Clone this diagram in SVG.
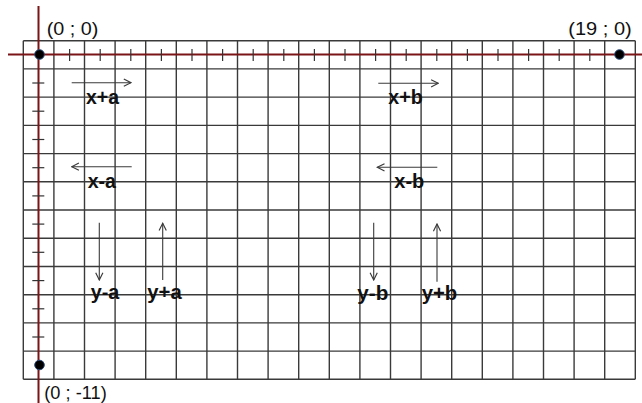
<svg xmlns="http://www.w3.org/2000/svg" width="642" height="403" viewBox="0 0 642 403">
<defs>
<style>
.grid line{stroke:#3a3a3a;stroke-width:1.4}
.axis{stroke:#7b1416;stroke-width:2}
.tick{stroke:#333;stroke-width:1.2}
.arr{stroke:#3a3a3a;stroke-width:1.1;fill:none;marker-end:url(#ah)}
.coord{font-family:"Liberation Sans",Arial,sans-serif;font-size:19px;fill:#111}
.lbl{font-family:"Liberation Sans",Arial,sans-serif;font-size:21px;font-weight:bold;fill:#111}
.dot{fill:#000;stroke:#2a4a7a;stroke-width:1}
</style>
<marker id="ah" viewBox="0 0 10 10" refX="9" refY="5" markerWidth="9" markerHeight="9" markerUnits="userSpaceOnUse" orient="auto">
<path d="M1,1 L9,5 L1,9" fill="none" stroke="#3a3a3a" stroke-width="1.3"/>
</marker>
</defs>
<rect width="642" height="403" fill="#fff"/>
<g id="grid" class="grid">
<line x1="23.3" y1="40.7" x2="23.3" y2="379.3"/>
<line x1="53.9" y1="40.7" x2="53.9" y2="379.3"/>
<line x1="84.5" y1="40.7" x2="84.5" y2="379.3"/>
<line x1="115.1" y1="40.7" x2="115.1" y2="379.3"/>
<line x1="145.7" y1="40.7" x2="145.7" y2="379.3"/>
<line x1="176.3" y1="40.7" x2="176.3" y2="379.3"/>
<line x1="206.9" y1="40.7" x2="206.9" y2="379.3"/>
<line x1="237.5" y1="40.7" x2="237.5" y2="379.3"/>
<line x1="268.1" y1="40.7" x2="268.1" y2="379.3"/>
<line x1="298.7" y1="40.7" x2="298.7" y2="379.3"/>
<line x1="329.3" y1="40.7" x2="329.3" y2="379.3"/>
<line x1="359.9" y1="40.7" x2="359.9" y2="379.3"/>
<line x1="390.5" y1="40.7" x2="390.5" y2="379.3"/>
<line x1="421.1" y1="40.7" x2="421.1" y2="379.3"/>
<line x1="451.7" y1="40.7" x2="451.7" y2="379.3"/>
<line x1="482.3" y1="40.7" x2="482.3" y2="379.3"/>
<line x1="512.9" y1="40.7" x2="512.9" y2="379.3"/>
<line x1="543.5" y1="40.7" x2="543.5" y2="379.3"/>
<line x1="574.1" y1="40.7" x2="574.1" y2="379.3"/>
<line x1="604.7" y1="40.7" x2="604.7" y2="379.3"/>
<line x1="635.3" y1="40.7" x2="635.3" y2="379.3"/>
<line x1="23.3" y1="40.7" x2="635.3" y2="40.7"/>
<line x1="23.3" y1="68.9" x2="635.3" y2="68.9"/>
<line x1="23.3" y1="97.1" x2="635.3" y2="97.1"/>
<line x1="23.3" y1="125.4" x2="635.3" y2="125.4"/>
<line x1="23.3" y1="153.6" x2="635.3" y2="153.6"/>
<line x1="23.3" y1="181.8" x2="635.3" y2="181.8"/>
<line x1="23.3" y1="210.0" x2="635.3" y2="210.0"/>
<line x1="23.3" y1="238.2" x2="635.3" y2="238.2"/>
<line x1="23.3" y1="266.5" x2="635.3" y2="266.5"/>
<line x1="23.3" y1="294.7" x2="635.3" y2="294.7"/>
<line x1="23.3" y1="322.9" x2="635.3" y2="322.9"/>
<line x1="23.3" y1="351.1" x2="635.3" y2="351.1"/>
<line x1="23.3" y1="379.3" x2="635.3" y2="379.3"/>
</g>
<g id="axes">
<line class="axis" x1="8" y1="54.5" x2="642" y2="54.5"/>
<line class="axis" x1="38.5" y1="6" x2="38.5" y2="403"/>
<g class="tick">
<line x1="69.6" y1="49" x2="69.6" y2="61"/>
<line x1="100.2" y1="49" x2="100.2" y2="61"/>
<line x1="130.8" y1="49" x2="130.8" y2="61"/>
<line x1="161.4" y1="49" x2="161.4" y2="61"/>
<line x1="192" y1="49" x2="192" y2="61"/>
<line x1="222.6" y1="49" x2="222.6" y2="61"/>
<line x1="253.2" y1="49" x2="253.2" y2="61"/>
<line x1="283.8" y1="49" x2="283.8" y2="61"/>
<line x1="314.4" y1="49" x2="314.4" y2="61"/>
<line x1="345" y1="49" x2="345" y2="61"/>
<line x1="375.6" y1="49" x2="375.6" y2="61"/>
<line x1="406.2" y1="49" x2="406.2" y2="61"/>
<line x1="436.8" y1="49" x2="436.8" y2="61"/>
<line x1="467.4" y1="49" x2="467.4" y2="61"/>
<line x1="498" y1="49" x2="498" y2="61"/>
<line x1="528.6" y1="49" x2="528.6" y2="61"/>
<line x1="559.2" y1="49" x2="559.2" y2="61"/>
<line x1="589.8" y1="49" x2="589.8" y2="61"/>
<line x1="32.3" y1="83" x2="44.3" y2="83"/>
<line x1="32.3" y1="111.2" x2="44.3" y2="111.2"/>
<line x1="32.3" y1="139.5" x2="44.3" y2="139.5"/>
<line x1="32.3" y1="167.7" x2="44.3" y2="167.7"/>
<line x1="32.3" y1="195.9" x2="44.3" y2="195.9"/>
<line x1="32.3" y1="224.1" x2="44.3" y2="224.1"/>
<line x1="32.3" y1="252.3" x2="44.3" y2="252.3"/>
<line x1="32.3" y1="280.6" x2="44.3" y2="280.6"/>
<line x1="32.3" y1="308.8" x2="44.3" y2="308.8"/>
<line x1="32.3" y1="337" x2="44.3" y2="337"/>
</g>
</g>
<g id="p00"><circle class="dot" cx="39.5" cy="54.5" r="4.8"/><text class="coord" x="46.7" y="35" textLength="51.6" lengthAdjust="spacingAndGlyphs">(0 ; 0)</text></g>
<g id="p190"><circle class="dot" cx="619.5" cy="54.5" r="4.8"/><text class="coord" x="568.3" y="35" textLength="63.4" lengthAdjust="spacingAndGlyphs">(19 ; 0)</text></g>
<g id="p011"><circle class="dot" cx="39.5" cy="365" r="4.8"/><text class="coord" x="44.3" y="399" textLength="62.4" lengthAdjust="spacingAndGlyphs">(0 ; -11)</text></g>
<g id="connectors">
<line class="arr" x1="71.7" y1="82.7" x2="131" y2="82.7"/>
<line class="arr" x1="131.7" y1="166.7" x2="71.7" y2="166.7"/>
<line class="arr" x1="99.3" y1="222.7" x2="99.3" y2="280"/>
<line class="arr" x1="162.7" y1="280" x2="162.7" y2="223.3"/>
<line class="arr" x1="378.3" y1="83.3" x2="438.3" y2="83.3"/>
<line class="arr" x1="437.3" y1="167.3" x2="377.3" y2="167.3"/>
<line class="arr" x1="373.7" y1="222.7" x2="373.7" y2="280"/>
<line class="arr" x1="437" y1="281.7" x2="437" y2="224"/>
</g>
<g id="lxpa"><text class="lbl" x="86" y="104" textLength="33" lengthAdjust="spacingAndGlyphs">x+a</text></g>
<g id="lxma"><text class="lbl" x="87.7" y="188" textLength="28.3" lengthAdjust="spacingAndGlyphs">x-a</text></g>
<g id="lyma"><text class="lbl" x="90.7" y="299" textLength="28.6" lengthAdjust="spacingAndGlyphs">y-a</text></g>
<g id="lypa"><text class="lbl" x="147.3" y="299" textLength="34.4" lengthAdjust="spacingAndGlyphs">y+a</text></g>
<g id="lxpb"><text class="lbl" x="388.3" y="104" textLength="34.4" lengthAdjust="spacingAndGlyphs">x+b</text></g>
<g id="lxmb"><text class="lbl" x="394.3" y="188" textLength="30" lengthAdjust="spacingAndGlyphs">x-b</text></g>
<g id="lymb"><text class="lbl" x="357.3" y="300" textLength="31" lengthAdjust="spacingAndGlyphs">y-b</text></g>
<g id="lypb"><text class="lbl" x="421.7" y="300" textLength="35.6" lengthAdjust="spacingAndGlyphs">y+b</text></g>
</svg>
